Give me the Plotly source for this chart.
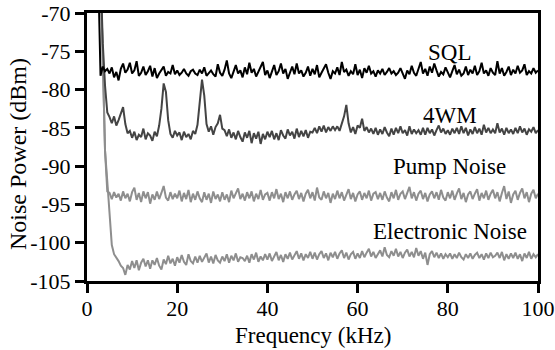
import plotly.graph_objects as go

# frequency bins of the spectrum analyser trace (kHz)
freq_khz = [2.0 + 0.5 * i for i in range(197)]

sql_dbm = [
    -40.0, -65.0, -78.2, -77.0, -77.6, -77.3,
    -77.9, -77.1, -78.4, -77.7, -78.8, -77.3, -76.6, -77.8, -77.4, -76.5,
    -77.9, -77.5, -76.3, -78.2, -77.8, -77.0, -78.1, -77.6, -76.9, -78.3,
    -77.2, -78.5, -77.9, -77.4, -77.0, -78.2, -77.7, -77.9, -76.8, -78.0,
    -77.5, -78.1, -77.8, -77.3, -77.9, -78.2, -77.6, -77.4, -77.9, -78.1,
    -77.4, -77.9, -77.1, -78.2, -77.8, -77.5, -78.0, -78.3, -76.7, -77.8,
    -78.2, -77.4, -76.2, -77.9, -78.5, -77.6, -76.8, -77.9, -77.5, -78.4,
    -77.1, -78.0, -76.5, -77.8, -77.3, -78.3, -77.7, -77.2, -76.4, -78.1,
    -77.5, -78.5, -77.7, -76.8, -78.1, -77.6, -76.6, -77.9, -77.3, -78.6,
    -77.8, -77.0, -78.0, -76.6, -77.9, -77.5, -78.3, -77.8, -77.0, -78.2,
    -77.3, -78.0, -76.8, -78.4, -77.8, -77.2, -76.7, -77.8, -78.6, -77.6,
    -77.9, -77.1, -78.1, -76.4, -77.7, -77.4, -78.2, -77.6, -78.0, -76.7,
    -78.1, -77.4, -78.5, -77.2, -77.8, -76.9, -77.9, -77.6, -78.3, -77.5,
    -77.9, -77.3, -78.1, -77.7, -77.2, -77.9, -77.6, -78.1, -77.8, -77.2,
    -77.9, -78.6, -77.5, -78.0, -76.9, -77.8, -78.2, -77.4, -76.4, -77.9,
    -77.3, -78.2, -77.0, -77.8, -76.6, -77.5, -78.3, -77.7, -78.0, -77.1,
    -77.8, -78.4, -77.6, -76.8, -78.0, -77.4, -78.2, -77.9, -77.0, -78.1,
    -77.4, -77.9, -76.9, -78.1, -77.6, -76.5, -77.9, -77.5, -78.2, -77.2,
    -77.8, -78.1, -76.3, -77.9, -77.2, -78.2, -77.7, -77.0, -78.1, -77.4,
    -77.9, -76.9, -77.8, -77.5, -76.7, -78.1, -77.6, -77.9, -77.2, -77.8,
    -77.5,
]

fwm_dbm = [
    -45.0, -55.0, -66.0, -74.0, -79.5, -83.0,
    -83.6, -84.4, -83.5, -84.7, -84.0, -83.2, -82.3, -84.5, -85.7, -85.4,
    -86.3, -85.5, -86.6, -85.9, -86.2, -85.1, -86.5, -85.7, -86.0, -86.7,
    -85.5, -86.1, -84.7, -82.5, -79.2, -80.3, -84.0, -85.8, -86.3, -85.4,
    -86.0, -85.6, -86.6, -85.5, -86.2, -85.8, -86.5, -85.4, -85.8, -84.6,
    -81.5, -78.7, -80.8, -84.5, -85.5, -84.8, -85.9, -84.9, -84.4, -83.3,
    -85.1, -85.3, -86.1, -85.2, -86.3, -85.6, -86.5, -85.4, -86.2, -86.8,
    -85.6, -86.3, -85.4, -87.0, -85.7, -86.4, -85.5, -87.1, -85.8, -86.5,
    -85.5, -86.2, -85.4, -86.5, -85.7, -86.6, -85.3, -86.0, -86.4, -85.2,
    -86.0, -85.5, -86.4, -85.1, -86.2, -85.4, -86.1, -85.3, -86.3, -85.5,
    -85.6, -85.0, -85.7, -84.8, -85.5, -84.7, -85.6, -84.9, -85.4, -84.8,
    -85.3, -84.8, -85.4, -84.3, -83.5, -82.0, -84.4, -85.6, -84.9, -85.8,
    -84.7, -85.0, -83.8, -85.4, -84.9, -85.6, -85.1, -85.8, -85.0, -85.9,
    -85.2, -85.8, -84.9, -85.6, -86.1, -85.1, -85.9, -85.0, -85.7, -84.8,
    -85.7, -85.3, -86.0, -84.8, -85.8, -85.2, -85.7, -85.3, -85.9, -85.0,
    -85.9, -85.0, -85.7, -85.2, -86.0, -85.3, -84.7, -85.6, -85.1, -85.8,
    -85.3, -85.9, -85.1, -85.7, -85.0, -85.8, -84.8, -85.7, -85.0, -86.0,
    -85.2, -85.8, -84.9, -85.7, -85.1, -85.9, -84.6, -85.6, -85.0, -85.7,
    -85.2, -85.7, -84.4, -85.6, -85.1, -85.9, -85.0, -85.7, -85.2, -85.8,
    -85.0, -85.7, -84.8, -85.6, -85.1, -85.9, -85.2, -85.5, -84.9, -85.7,
    -85.3,
]

pump_dbm = [
    -40.0, -52.0, -62.0, -72.5, -88.0, -93.3,
    -93.5, -94.3, -93.4, -94.1, -93.6, -94.5, -93.3, -94.2, -93.6, -94.6,
    -93.4, -92.8, -94.4, -93.5, -94.7, -93.3, -94.2, -93.4, -94.9, -93.7,
    -94.4, -93.3, -94.3, -93.5, -92.6, -94.1, -94.5, -93.4, -94.3, -93.6,
    -94.2, -93.2, -94.6, -93.5, -94.3, -93.1, -94.7, -93.6, -94.4, -93.3,
    -94.2, -94.7, -93.4, -94.4, -93.6, -94.8, -93.3, -94.3, -93.7, -94.6,
    -93.4, -94.4, -93.7, -94.7, -93.2, -94.2, -93.5, -92.9, -94.3, -93.6,
    -94.5, -93.4, -94.2, -93.3, -94.6, -93.6, -94.3, -93.1, -94.4, -93.7,
    -93.5, -94.5, -93.4, -94.2, -93.0, -94.3, -93.6, -94.7, -93.4, -94.2,
    -93.3, -94.4, -93.7, -93.2, -94.3, -93.5, -94.6, -93.6, -93.1, -94.2,
    -93.4, -94.5, -92.8, -94.1, -94.4, -93.3, -94.2, -93.5, -94.8, -93.6,
    -94.3, -93.2, -94.2, -93.4, -94.5, -93.6, -93.0, -94.3, -93.5, -94.6,
    -93.7, -93.3, -94.4, -93.5, -94.2, -93.2, -94.5, -93.6, -93.4, -94.3,
    -93.5, -94.4, -93.3, -94.1, -94.6, -93.4, -94.2, -93.1, -94.4, -93.6,
    -93.3, -94.3, -93.5, -92.7, -94.2, -93.4, -94.5, -93.6, -93.2, -94.3,
    -93.5, -94.6, -93.7, -93.3, -94.2, -93.4, -94.4, -93.1, -94.1, -94.5,
    -93.4, -94.2, -93.2, -94.4, -93.6, -92.9, -94.3, -93.5, -94.7, -93.7,
    -93.3, -94.3, -93.6, -93.0, -94.5, -93.5, -94.2, -93.2, -94.4, -93.6,
    -93.1, -94.2, -93.4, -94.6, -93.5, -92.6, -94.3, -93.3, -94.8, -93.7,
    -93.2, -94.4, -93.5, -92.9, -94.2, -93.4, -94.7, -93.6, -93.1, -94.2,
    -93.6,
]

electronic_dbm = [
    -40.0, -52.0, -62.0, -72.5, -88.0, -92.0,
    -96.5, -100.3, -101.5, -101.9, -102.4, -103.0, -103.3, -104.2, -102.9, -103.5,
    -102.4, -103.3, -102.3, -103.6, -102.6, -102.1, -103.1, -102.3, -103.4, -102.3,
    -102.9, -102.0, -103.0, -103.5, -102.2, -102.8, -101.7, -102.7, -102.1, -103.0,
    -101.9, -102.6, -101.6, -102.5, -102.9, -101.5, -102.4, -102.7, -101.8, -102.6,
    -101.7, -102.5, -101.9, -101.4, -102.6, -101.8, -102.7, -101.6, -102.3, -102.6,
    -101.8, -102.4, -101.5, -102.6, -101.7, -102.3, -101.4, -102.5, -101.9, -102.0,
    -102.4, -101.7, -102.6, -101.5, -102.2, -101.3, -102.5, -101.8, -102.3, -101.5,
    -102.2, -101.4, -102.4, -101.7, -101.2, -102.3, -101.6, -102.5, -101.5, -102.1,
    -101.3, -102.2, -101.6, -101.1, -102.1, -101.4, -102.3, -101.5, -102.0, -101.2,
    -102.1, -101.3, -102.2, -101.5, -101.1, -102.0, -101.4, -102.3, -101.3, -101.9,
    -101.2, -102.1, -101.4, -101.0, -102.0, -101.3, -102.2, -101.5, -101.2, -102.1,
    -101.4, -102.0, -101.1, -101.9, -101.3, -100.8, -101.8, -101.2, -102.0, -101.4,
    -101.0, -101.8, -100.6, -101.6, -101.9, -101.1, -101.7, -100.8, -101.8, -101.2,
    -102.0, -101.3, -100.9, -101.8, -101.2, -101.9, -100.7, -101.7, -101.1, -102.1,
    -101.3, -102.9, -101.5, -101.1, -101.9, -101.3, -102.0, -101.4, -102.1, -101.5,
    -101.9, -101.4, -102.1, -101.5, -102.0, -101.3, -101.9, -102.2, -101.5, -102.0,
    -101.4, -102.1, -101.6, -101.3, -102.0, -101.5, -102.2, -101.4, -102.0, -101.3,
    -101.9, -101.7, -101.3, -102.0, -101.2, -102.3, -101.5, -102.1, -101.4, -102.0,
    -101.3, -102.1, -101.5, -102.4, -101.4, -102.0, -101.2, -102.1, -101.5, -101.9,
    -101.5,
]

x_tick_vals = [0, 20, 40, 60, 80, 100]
x_tick_text = ['0', '20', '40', '60', '80', '100']
y_tick_vals = [-105, -100, -95, -90, -85, -80, -75, -70]
y_tick_text = ['-105', '-100', '-95', '-90', '-85', '-80', '-75', '-70']

series = [
    ('Electronic Noise', electronic_dbm, '#8e8e8e', -98.5),
    ('Pump Noise', pump_dbm, '#8e8e8e', -90.1),
    ('4WM', fwm_dbm, '#444444', -83.4),
    ('SQL', sql_dbm, '#000000', -75.1),
]
label_x = 80.4

serif = 'Liberation Serif'

fig = go.Figure()
for name, values, color, label_y in series:
    fig.add_trace(go.Scatter(
        x=freq_khz,
        y=values,
        mode='lines',
        name=name,
        line=dict(color=color, width=2),
    ))
    fig.add_annotation(
        x=label_x, y=label_y, text=name, showarrow=False,
        font=dict(family=serif, size=23, color='black'),
        xanchor='center', yanchor='middle'
    )

# axis titles as annotations so they sit where the original has them
fig.add_annotation(
    x=-0.153, y=0.474, xref='paper', yref='paper',
    text='Noise Power (dBm)', textangle=-90, showarrow=False,
    font=dict(family=serif, size=24, color='black'),
    xanchor='center', yanchor='middle'
)
fig.add_annotation(
    x=0.5, y=-0.203, xref='paper', yref='paper',
    text='Frequency (kHz)', showarrow=False,
    font=dict(family=serif, size=23, color='black'),
    xanchor='center', yanchor='middle'
)

axis_style = dict(
    showline=True,
    mirror=True,
    linecolor='black',
    linewidth=3,
    ticks='outside',
    ticklen=9,
    tickwidth=3,
    tickcolor='black',
    showgrid=False,
    zeroline=False,
    automargin=False,
    ticklabeloverflow='allow',
    tickfont=dict(family=serif, size=22, color='black'),
)

fig.update_layout(
    width=555,
    height=350,
    margin=dict(l=87, r=17, t=13, b=69),
    paper_bgcolor='white',
    plot_bgcolor='white',
    showlegend=False,
    font=dict(family=serif, size=23, color='black'),
    xaxis=dict(range=[0, 100], tickvals=x_tick_vals, ticktext=x_tick_text,
               ticklabelstandoff=-3, **axis_style),
    yaxis=dict(range=[-105, -70], tickvals=y_tick_vals, ticktext=y_tick_text, **axis_style),
)

# page has a default body margin; drop it so the figure sits at the corner
fig.write_html("out.html", config={'displayModeBar': False},
               post_script="document.body.style.margin='0';")
